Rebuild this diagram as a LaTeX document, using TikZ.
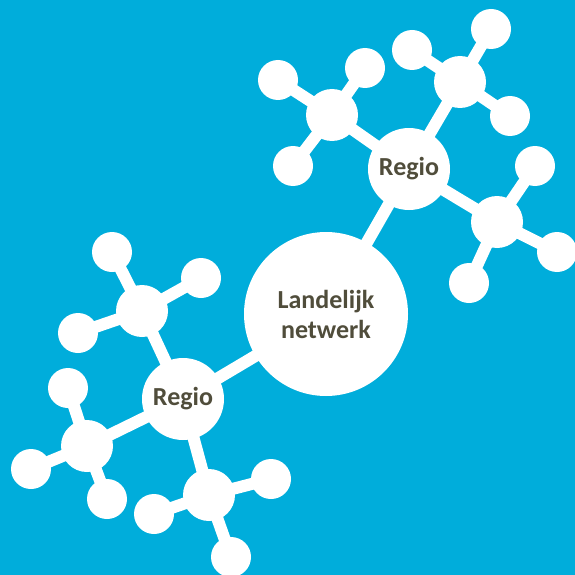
\documentclass[tikz,border=0pt]{standalone}
\usepackage{fontspec}
\setmainfont{Carlito}
\definecolor{bg}{HTML}{00ADDB}
\definecolor{txt}{HTML}{504D3B}
\tikzset{
  ball/.style={circle,fill=white,inner sep=0pt,minimum size=#1},
  big/.style={ball=164pt,font=\bfseries\fontsize{26}{30}\selectfont,text=txt,align=center},
  reg/.style={ball=82pt,font=\bfseries\fontsize{26}{30}\selectfont,text=txt},
  hub/.style={ball=52pt},
  leaf/.style={ball=40pt},
  bond/.style={draw=white,line width=12pt}
}
\begin{document}
\begin{tikzpicture}[x=1pt,y=-1pt]
\fill[bg] (0,0) rectangle (575,575);
\useasboundingbox (0,0) rectangle (575,575);
% coordinates
\coordinate (L) at (326,314);
\coordinate (R1) at (183,399);
\coordinate (R2) at (409,169);
\coordinate (hA) at (142,311);
\coordinate (hB) at (87,446);
\coordinate (hC) at (209,495);
\coordinate (hD) at (332,115);
\coordinate (hE) at (460,82);
\coordinate (hF) at (497,222);
\coordinate (a1) at (112,252);
\coordinate (a2) at (201,278);
\coordinate (a3) at (78,333);
\coordinate (b1) at (68,388);
\coordinate (b2) at (31,469);
\coordinate (b3) at (107,499);
\coordinate (c1) at (154,514);
\coordinate (c2) at (271,479);
\coordinate (c3) at (231,557);
\coordinate (d1) at (278,80);
\coordinate (d2) at (365,68);
\coordinate (d3) at (293,166);
\coordinate (e1) at (412,50);
\coordinate (e2) at (491,29);
\coordinate (e3) at (510,116);
\coordinate (f1) at (535,166);
\coordinate (f2) at (557,252);
\coordinate (f3) at (469,283);
% bonds
\path[bond] (L)--(R1) (L)--(R2)
  (R1)--(hA) (R1)--(hB) (R1)--(hC)
  (R2)--(hD) (R2)--(hE) (R2)--(hF)
  (hA)--(a1) (hA)--(a2) (hA)--(a3)
  (hB)--(b1) (hB)--(b2) (hB)--(b3)
  (hC)--(c1) (hC)--(c2) (hC)--(c3)
  (hD)--(d1) (hD)--(d2) (hD)--(d3)
  (hE)--(e1) (hE)--(e2) (hE)--(e3)
  (hF)--(f1) (hF)--(f2) (hF)--(f3);
% balls
\node[big] (nL) at (L) {Landelijk\\netwerk};
\node[reg] (nR1) at (R1) {Regio};
\node[reg] (nR2) at (R2) {Regio};
\foreach \h in {hA,hB,hC,hD,hE,hF}{\node[hub] (n\h) at (\h) {};}
\foreach \l in {a1,a2,a3,b1,b2,b3,c1,c2,c3,d1,d2,d3,e1,e2,e3,f1,f2,f3}{\node[leaf] (n\l) at (\l) {};}
\end{tikzpicture}
\end{document}
